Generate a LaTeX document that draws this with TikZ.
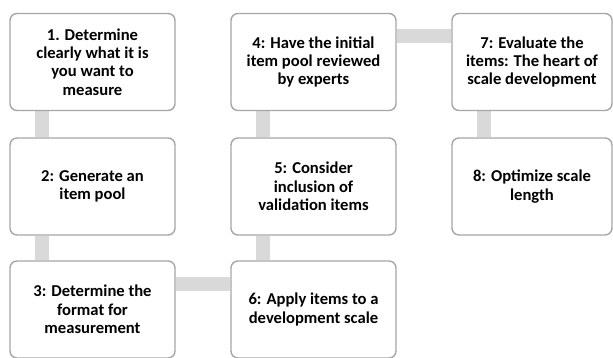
\documentclass[tikz,border=0pt]{standalone}
\usepackage{fontspec}
\setmainfont{Carlito}
\usetikzlibrary{backgrounds}
\definecolor{boxline}{HTML}{A6A6A6}
\definecolor{connfill}{HTML}{D9D9D9}
\tikzset{
  stepbox/.style={draw=boxline, line width=1.4pt, fill=white, rounded corners=7pt,
    minimum width=165pt, minimum height=97pt, align=center, inner sep=2pt,
    font=\fontsize{16.6}{18.4}\selectfont\bfseries, text=black},
  conn/.style={draw=connfill, line width=14pt}
}
\begin{document}
\begin{tikzpicture}[x=1pt,y=1pt]
\useasboundingbox (0,0) rectangle (613,358);
\node[stepbox] (b1) at (92.5,296) {1. Determine\\clearly what it is\\you want to\\measure};
\node[stepbox] (b2) at (92.5,171.5) {2: Generate an\\item pool};
\node[stepbox] (b3) at (92.5,48.5) {3: Determine the\\format for\\measurement};
\node[stepbox] (b4) at (313.5,296) {4: Have the initial\\item pool reviewed\\by experts};
\node[stepbox] (b5) at (313.5,171.5) {5: Consider\\inclusion of\\validation items};
\node[stepbox] (b6) at (313.5,48.5) {6: Apply items to a\\development scale};
\node[stepbox, minimum width=160pt] (b7) at (532,296) {7: Evaluate the\\items: The heart of\\scale development};
\node[stepbox, minimum width=160pt] (b8) at (532,171.5) {8: Optimize scale\\length};
\begin{scope}[on background layer]
\draw[conn] ([xshift=33pt]b1.south west) -- ([xshift=33pt]b2.north west);
\draw[conn] ([xshift=33pt]b2.south west) -- ([xshift=33pt]b3.north west);
\draw[conn] ([yshift=-24pt]b3.north east) -- ([yshift=-24pt]b6.north west);
\draw[conn] ([xshift=33pt]b6.north west) -- ([xshift=33pt]b5.south west);
\draw[conn] ([xshift=33pt]b5.north west) -- ([xshift=33pt]b4.south west);
\draw[conn] ([yshift=-23pt]b4.north east) -- ([yshift=-23pt]b7.north west);
\draw[conn] ([xshift=33pt]b7.south west) -- ([xshift=33pt]b8.north west);
\end{scope}
\end{tikzpicture}
\end{document}
